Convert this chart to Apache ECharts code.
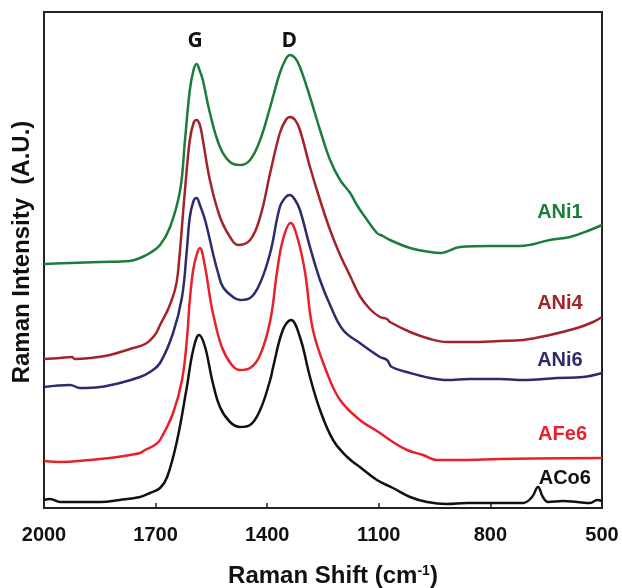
<!DOCTYPE html>
<html>
<head>
<meta charset="utf-8">
<script src="https://cdn.jsdelivr.net/npm/echarts@6/dist/echarts.min.js"></script>
<style>
  html, body { margin: 0; padding: 0; background: #fff; }
  #chart { width: 622px; height: 588px; }
</style>
</head>
<body>
<div id="chart"></div>
<script>
// Raman spectra: [shift cm-1, intensity a.u.]
const ani1 = [
  [2000, 244], [1930, 245], [1849, 246], [1769, 247], [1742, 250], [1715, 255],
  [1688, 263], [1661, 281], [1634, 318], [1621, 368], [1608, 418], [1598, 438],
  [1590, 444], [1581, 437], [1573, 428], [1554, 395], [1527, 361], [1500, 346],
  [1473, 343], [1446, 348], [1419, 368], [1392, 401], [1366, 435], [1350, 449],
  [1339, 453], [1325, 450], [1312, 441], [1285, 411], [1258, 378], [1231, 348],
  [1204, 328], [1177, 315], [1159, 303], [1137, 291], [1105, 275], [1089, 272],
  [1070, 268], [1016, 260], [962, 256], [935, 255], [882, 261], [801, 262],
  [720, 262], [640, 268], [586, 271], [532, 278], [500, 283]
];
const ani4 = [
  [2000, 149], [1957, 150], [1925, 151], [1917, 149], [1876, 150], [1823, 153],
  [1769, 159], [1728, 164], [1702, 173], [1688, 183], [1665, 200], [1648, 218],
  [1640, 235], [1621, 318], [1608, 368], [1598, 385], [1590, 388], [1581, 383],
  [1573, 368], [1554, 328], [1527, 291], [1500, 271], [1479, 263], [1446, 268],
  [1419, 291], [1392, 335], [1366, 375], [1350, 388], [1339, 391], [1325, 388],
  [1312, 378], [1285, 341], [1258, 308], [1231, 278], [1204, 253], [1177, 232],
  [1151, 212], [1124, 199], [1097, 191], [1078, 189], [1070, 186], [1016, 176],
  [962, 169], [917, 166], [855, 166], [774, 167], [712, 168], [640, 173],
  [567, 180], [524, 186], [500, 191]
];
const ani6 = [
  [2000, 121], [1930, 123], [1903, 120], [1849, 121], [1796, 125], [1742, 131],
  [1715, 136], [1688, 145], [1653, 175], [1629, 211], [1616, 258], [1608, 291],
  [1598, 307], [1590, 310], [1581, 303], [1567, 288], [1546, 255], [1532, 235],
  [1519, 221], [1492, 211], [1473, 208], [1446, 210], [1419, 225], [1392, 255],
  [1366, 301], [1350, 311], [1339, 313], [1325, 308], [1312, 298], [1285, 261],
  [1258, 228], [1231, 203], [1196, 178], [1151, 165], [1097, 151], [1078, 148],
  [1065, 141], [1016, 135], [962, 130], [917, 128], [855, 129], [774, 129],
  [712, 128], [621, 130], [551, 131], [500, 135]
];
const afe6 = [
  [2000, 47], [1957, 46], [1876, 48], [1823, 50], [1769, 53], [1742, 55],
  [1728, 58], [1702, 63], [1688, 68], [1653, 95], [1629, 128], [1616, 168],
  [1608, 208], [1599, 238], [1589, 254], [1581, 260], [1567, 241], [1554, 211],
  [1546, 195], [1522, 161], [1495, 143], [1473, 138], [1446, 140], [1419, 153],
  [1392, 187], [1374, 235], [1358, 268], [1337, 285], [1317, 268], [1298, 235],
  [1277, 178], [1239, 135], [1204, 108], [1151, 88], [1105, 77], [1070, 68],
  [1024, 58], [981, 53], [944, 48], [874, 48], [774, 49], [500, 50]
];
const aco6 = [
  [2000, 8], [1984, 9], [1957, 6], [1849, 6], [1796, 8], [1742, 11], [1715, 15],
  [1688, 20], [1669, 31], [1642, 68], [1616, 121], [1599, 158], [1583, 173],
  [1567, 161], [1548, 128], [1527, 101], [1500, 86], [1473, 81], [1446, 83],
  [1419, 98], [1392, 128], [1384, 141], [1358, 178], [1336, 188], [1312, 171],
  [1285, 131], [1258, 98], [1223, 68], [1185, 51], [1151, 41], [1105, 28],
  [1062, 20], [1016, 11], [970, 6], [917, 4], [863, 5], [801, 5], [712, 5],
  [688, 11], [672, 21], [659, 11], [645, 6], [605, 7], [567, 6], [532, 5],
  [513, 8], [500, 7]
];

const seriesNames = ['ANi1', 'ANi4', 'ANi6', 'AFe6', 'ACo6'];
const seriesData = [ani1, ani4, ani6, afe6, aco6];
const lineColors = ['#1b7d3a', '#a3232a', '#2a2c6e', '#e8202a', '#111111'];
// where each sample name sits, in data coordinates
const nameSpots = [[613, 296], [613, 205], [613, 148], [606, 74], [600, 30]];
const bandNames = ['G', 'D'];
const bandSpots = [[1594, 467], [1341, 467]];

const font = '"Liberation Sans", Arial, sans-serif';
const chart = echarts.init(document.getElementById('chart'));

const series = seriesNames.map((name, i) => ({
  name,
  type: 'line',
  data: seriesData[i],
  smooth: 0.4,
  symbol: 'none',
  lineStyle: { color: lineColors[i], width: 2.5 },
  z: 5 - i,
  animation: false,
  markPoint: {
    symbol: 'circle',
    symbolSize: 0,
    animation: false,
    label: {
      show: true,
      position: 'inside',
      formatter: name,
      color: lineColors[i],
      fontFamily: font,
      fontWeight: 'bold',
      fontSize: 20
    },
    data: [{ coord: nameSpots[i] }]
  }
}));

series.push({
  type: 'line',
  data: [],
  markPoint: {
    symbol: 'circle',
    symbolSize: 0,
    animation: false,
    label: {
      show: true,
      position: 'inside',
      formatter: (p) => p.name,
      color: '#111',
      fontFamily: '"Open Sans", sans-serif',
      fontWeight: 'bold',
      fontSize: 21
    },
    data: bandNames.map((n, i) => ({ name: n, coord: bandSpots[i] }))
  }
});

chart.setOption({
  animation: false,
  grid: {
    left: 44, right: 20, top: 12, bottom: 80,
    containLabel: false,
    outerBoundsMode: 'none',
    show: true, borderColor: '#222', borderWidth: 2
  },
  xAxis: {
    type: 'value',
    inverse: true,
    min: 500,
    max: 2000,
    interval: 300,
    name: '{t|Raman Shift (cm}{s|-1}{t|)}',
    nameLocation: 'middle',
    nameGap: 56,
    nameTextStyle: {
      padding: [0, 0, 0, 20],
      rich: {
        t: { fontFamily: font, fontWeight: 'bold', fontSize: 24, color: '#111' },
        s: { fontFamily: font, fontWeight: 'bold', fontSize: 14, color: '#111', verticalAlign: 'top', padding: [0, 0, 10, 0] }
      }
    },
    axisLine: { show: true, lineStyle: { color: '#222', width: 2 } },
    axisTick: { show: true, inside: true, length: 5, lineStyle: { color: '#222', width: 1.5 } },
    axisLabel: {
      color: '#111', fontFamily: font, fontWeight: 'bold', fontSize: 20, margin: 17,
      formatter: (v) => String(v)
    },
    splitLine: { show: false }
  },
  yAxis: {
    type: 'value',
    min: 0,
    max: 496,
    name: 'Raman Intensity  (A.U.)',
    nameLocation: 'middle',
    nameGap: 10,
    nameTextStyle: { fontFamily: font, fontWeight: 'bold', fontSize: 24, color: '#111', padding: [0, 0, 0, 16] },
    axisLine: { show: true, lineStyle: { color: '#222', width: 2 } },
    axisTick: { show: false },
    axisLabel: { show: false },
    splitLine: { show: false }
  },
  series
});

window.addEventListener('resize', chart.resize);
</script>
</body>
</html>
